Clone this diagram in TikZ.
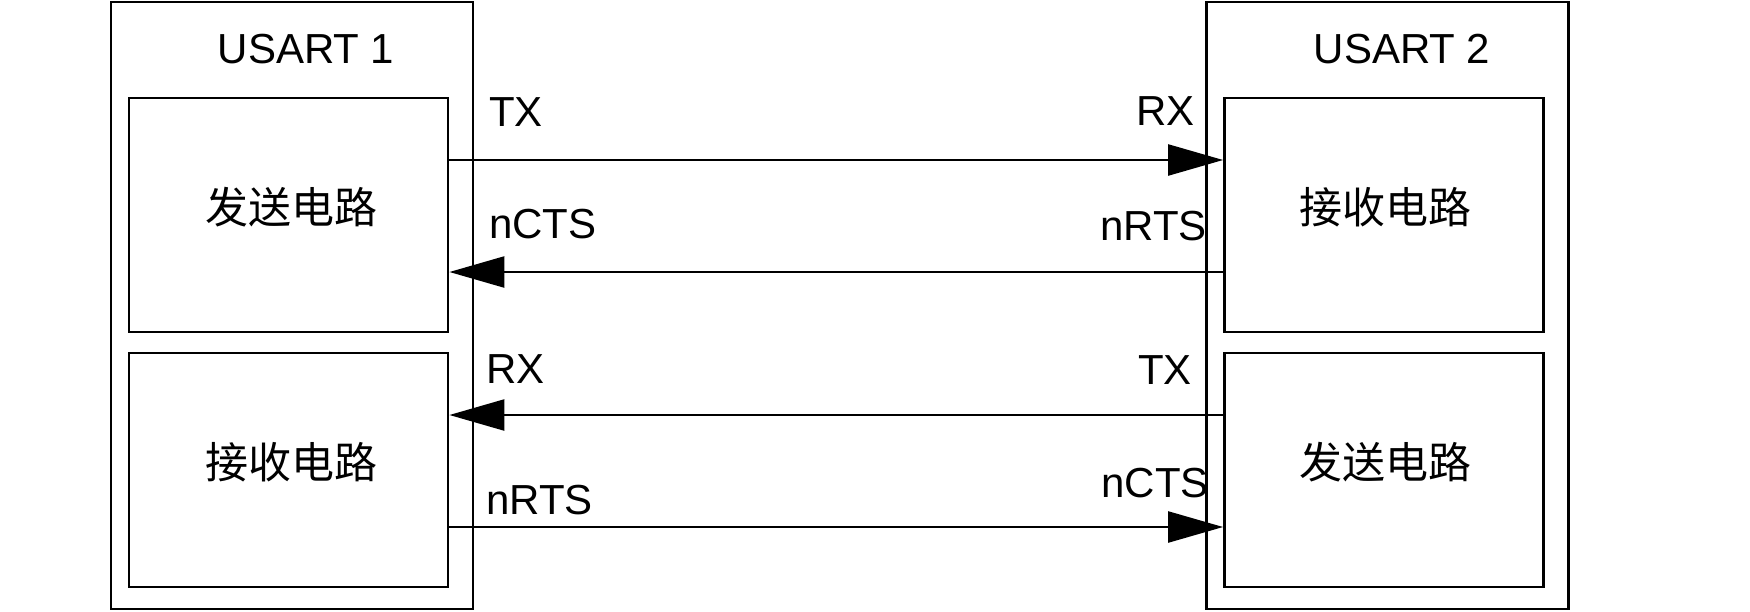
\documentclass[tikz,border=0pt]{standalone}
\usepackage{fontspec}
\setmainfont{Liberation Sans}
\newfontfamily\cjk{Noto Sans CJK SC}
\usetikzlibrary{arrows.meta}
\begin{document}
\begin{tikzpicture}[x=1pt,y=-1pt,
  outerbox/.style={draw,line width=2.8pt,inner sep=0pt,minimum width=362pt,minimum height=607pt},
  innerbox/.style={draw,line width=2.8pt,inner sep=0pt,minimum width=319pt,minimum height=234pt},
  cn/.style={font=\cjk\fontsize{43}{48}\selectfont,inner sep=0pt},
  lbl/.style={font=\fontsize{42}{48}\selectfont,inner sep=0pt},
  sig/.style={line width=2.4pt,-{Triangle[length=55pt,width=31pt]}}]
\useasboundingbox (0,0) rectangle (1750,611);
\node[outerbox] (u1) at (292,305.5) {};
\node[outerbox] (u2) at (1387.5,305.5) {};
\node[lbl,anchor=base] (t1) at (306,63) {USART 1};
\node[lbl,anchor=base] (t2) at (1402,63) {USART 2};
\node[innerbox] (s1) at (288.5,215) {};
\node[innerbox] (r1) at (288.5,470) {};
\node[innerbox] (r2) at (1384,215) {};
\node[innerbox] (s2) at (1384,470) {};
\node[cn] (cs1) at (291,207) {发送电路};
\node[cn] (cr1) at (291,462) {接收电路};
\node[cn] (cr2) at (1385,207) {接收电路};
\node[cn] (cs2) at (1385,462) {发送电路};
\coordinate (y1) at (0,160);
\coordinate (y2) at (0,272);
\coordinate (y3) at (0,415);
\coordinate (y4) at (0,527);
\draw[sig] (s1.east |- y1) -- (r2.west |- y1);
\draw[sig] (r2.west |- y2) -- (s1.east |- y2);
\draw[sig] (s2.west |- y3) -- (r1.east |- y3);
\draw[sig] (r1.east |- y4) -- (s2.west |- y4);
\node[lbl,anchor=base west] (l1) at (489,126) {TX};
\node[lbl,anchor=base west] (l2) at (489,238) {nCTS};
\node[lbl,anchor=base west] (l3) at (486,383) {RX};
\node[lbl,anchor=base west] (l4) at (486,514) {nRTS};
\node[lbl,anchor=base east] (r1l) at (1195,125) {RX};
\node[lbl,anchor=base east] (r2l) at (1207,240) {nRTS};
\node[lbl,anchor=base east] (r3l) at (1192,384) {TX};
\node[lbl,anchor=base east] (r4l) at (1209,497) {nCTS};
\end{tikzpicture}
\end{document}
